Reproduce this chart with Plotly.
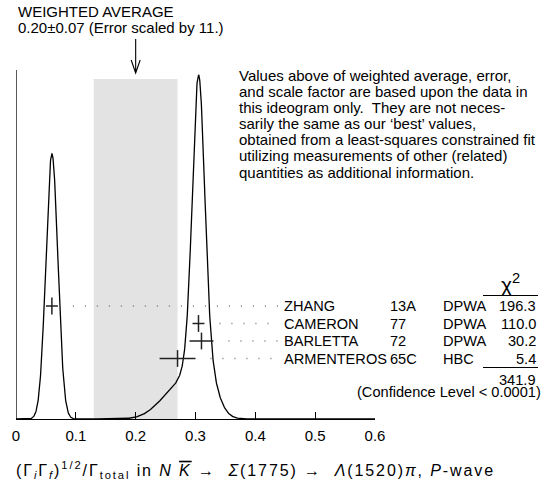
import numpy as np
import plotly.graph_objects as go

# ---------------- data ----------------
names = ["ZHANG", "CAMERON", "BARLETTA", "ARMENTEROS"]
years = ["13A", "77", "72", "65C"]
techs = ["DPWA", "DPWA", "DPWA", "HBC"]
values = [0.06, 0.305, 0.31, 0.27]
errors = [0.01, 0.01, 0.02, 0.03]
chi2 = ["196.3", "110.0", "30.2", "5.4"]
chi2_total = "341.9"
confidence = "(Confidence Level < 0.0001)"
avg_value = 0.20
avg_error = 0.07
avg_text = "0.20\u00b10.07 (Error scaled by 11.)"
tick_vals = [0, 0.1, 0.2, 0.3, 0.4, 0.5, 0.6]
tick_text = ["0", "0.1", "0.2", "0.3", "0.4", "0.5", "0.6"]
note_lines = [
    "Values above of weighted average, error,",
    "and scale factor are based upon the data in",
    "this ideogram only.  They are not neces-",
    "sarily the same as our \u2018best\u2019 values,",
    "obtained from a least-squares constrained fit",
    "utilizing measurements of other (related)",
    "quantities as additional information.",
]
x_title = ("<span style=\"letter-spacing:1.9px\">"
           "(\u0393<sub><i>i</i></sub>\u0393<sub><i>f</i></sub>)<sup>1/2</sup>/\u0393<sub>total</sub>"
           " in <i>N</i> <span style=\"text-decoration:overline\"><i>K</i></span> \u2192  "
           "<i>\u03a3</i>(1775) \u2192  <i>\u039b</i>(1520)<i>\u03c0</i>, <i>P</i>-wave</span>")

# ---------------- layout constants (pixels) ----------------
W, H = 548, 491
X0_PX, X1_PX = 16, 375
XMIN, XMAX = 0.0, 0.6
BASE_PX = 419
AXIS_TOP_PX = 70
BAND_TOP_PX = 79
CURVE_PX_PER_UNIT = 0.0265
ROW0_PX, ROW_STEP = 306, 17.5
FONT = "Liberation Sans, Arial, sans-serif"
FS = 15


def px_x(px):
    return px / W


def py_y(py):
    return (BASE_PX - py) / BASE_PX


def h(py):
    return BASE_PX - py


def px_to_v(px):
    return XMIN + (px - X0_PX) / (X1_PX - X0_PX) * (XMAX - XMIN)


PX_UNIT = (XMAX - XMIN) / (X1_PX - X0_PX)

rows_py = [ROW0_PX + i * ROW_STEP for i in range(len(names))]

# ideogram curve from the measurements
xs = np.linspace(XMIN, XMAX, 1501)
ys = np.zeros_like(xs)
for v, e in zip(values, errors):
    ys += np.exp(-0.5 * ((xs - v) / e) ** 2) / e ** 2

fig = go.Figure()

fig.add_trace(go.Scatter(x=xs, y=ys, mode="lines", line=dict(color="black", width=1.3),
                         hoverinfo="skip", yaxis="y"))

# dotted leader lines
for v, e, py in zip(values, errors, rows_py):
    fig.add_trace(go.Scatter(x=[v + e + 0.025, px_to_v(279)], y=[h(py), h(py)], mode="lines",
                             line=dict(color="#777777", width=1.4, dash="1px,11px"),
                             yaxis="y2", hoverinfo="skip", cliponaxis=False))

# measurement crosses
fig.add_trace(go.Scatter(
    x=values, y=[h(py) for py in rows_py], mode="markers", yaxis="y2",
    marker=dict(symbol="line-ns", size=12, line=dict(color="#222222", width=1.5)),
    error_x=dict(type="data", array=errors, width=0, thickness=1.5, color="#222222"),
    cliponaxis=False, hoverinfo="skip"))

shapes = []
# grey band for weighted average
shapes.append(dict(type="rect", xref="x", yref="y2", x0=avg_value - avg_error, x1=avg_value + avg_error,
                   y0=0, y1=h(BAND_TOP_PX), fillcolor="#e3e3e3", line=dict(width=0), layer="below"))
# left vertical line
shapes.append(dict(type="line", xref="x", yref="y2", x0=XMIN, x1=XMIN, y0=0, y1=h(AXIS_TOP_PX),
                   line=dict(color="black", width=1.3)))
# arrow
tip, tail = h(73), h(39)
aw = 4.5 * PX_UNIT
shapes.append(dict(type="path", xref="x", yref="y2",
                   path=f"M {avg_value},{tail} L {avg_value},{tip} M {avg_value-aw},{tip+13} L {avg_value},{tip} L {avg_value+aw},{tip+13}",
                   line=dict(color="black", width=1.1)))
# chi2 header rule and sum rule
for py in (295.5, 367.5):
    shapes.append(dict(type="line", xref="paper", yref="paper", x0=px_x(483), x1=px_x(538),
                       y0=py_y(py), y1=py_y(py), line=dict(color="black", width=1.1)))

ann = []


def text(px, py, s, anchor="left", size=FS):
    ann.append(dict(x=px_x(px), y=py_y(py), xref="paper", yref="paper", text=s, showarrow=False,
                    xanchor=anchor, yanchor="middle", font=dict(family=FONT, size=size, color="black")))


text(16, 11.5, "WEIGHTED AVERAGE")
text(16, 27.5, avg_text)
for i, line in enumerate(note_lines):
    text(237, 75 + i * 16.2, line)
for name, yr, tq, c, py in zip(names, years, techs, chi2, rows_py):
    text(282, py, name, size=14.6)
    text(388, py, yr, size=14.6)
    text(441, py, tq, size=14.6)
    text(538, py, c, anchor="right", size=14.6)
text(510, 283, "\u03c7<sup>2</sup>", anchor="center", size=21)
text(538, 380, chi2_total, anchor="right", size=14.6)
text(543, 392, confidence, anchor="right", size=14.6)
text(14, 470, x_title, size=16)

fig.update_layout(
    width=W, height=H, margin=dict(l=0, r=0, t=0, b=H - BASE_PX, pad=0, autoexpand=False),
    paper_bgcolor="white", plot_bgcolor="white", showlegend=False,
    xaxis=dict(domain=[X0_PX / W, X1_PX / W], range=[XMIN, XMAX], showgrid=False, zeroline=False,
               showline=True, linecolor="black", linewidth=1.3, ticks="inside", ticklen=7,
               tickwidth=1.2, tickcolor="black", tickvals=tick_vals, ticktext=tick_text,
               tickfont=dict(family=FONT, size=FS, color="black"), ticklabelstandoff=3,
               automargin=False),
    yaxis=dict(range=[0, BASE_PX / CURVE_PX_PER_UNIT], visible=False, domain=[0, 1], automargin=False),
    yaxis2=dict(range=[0, BASE_PX], visible=False, overlaying="y", automargin=False),
    shapes=shapes, annotations=ann,
)

fig.write_html("out.html", config={"displayModeBar": False},
               post_script="document.body.style.margin='0';")
